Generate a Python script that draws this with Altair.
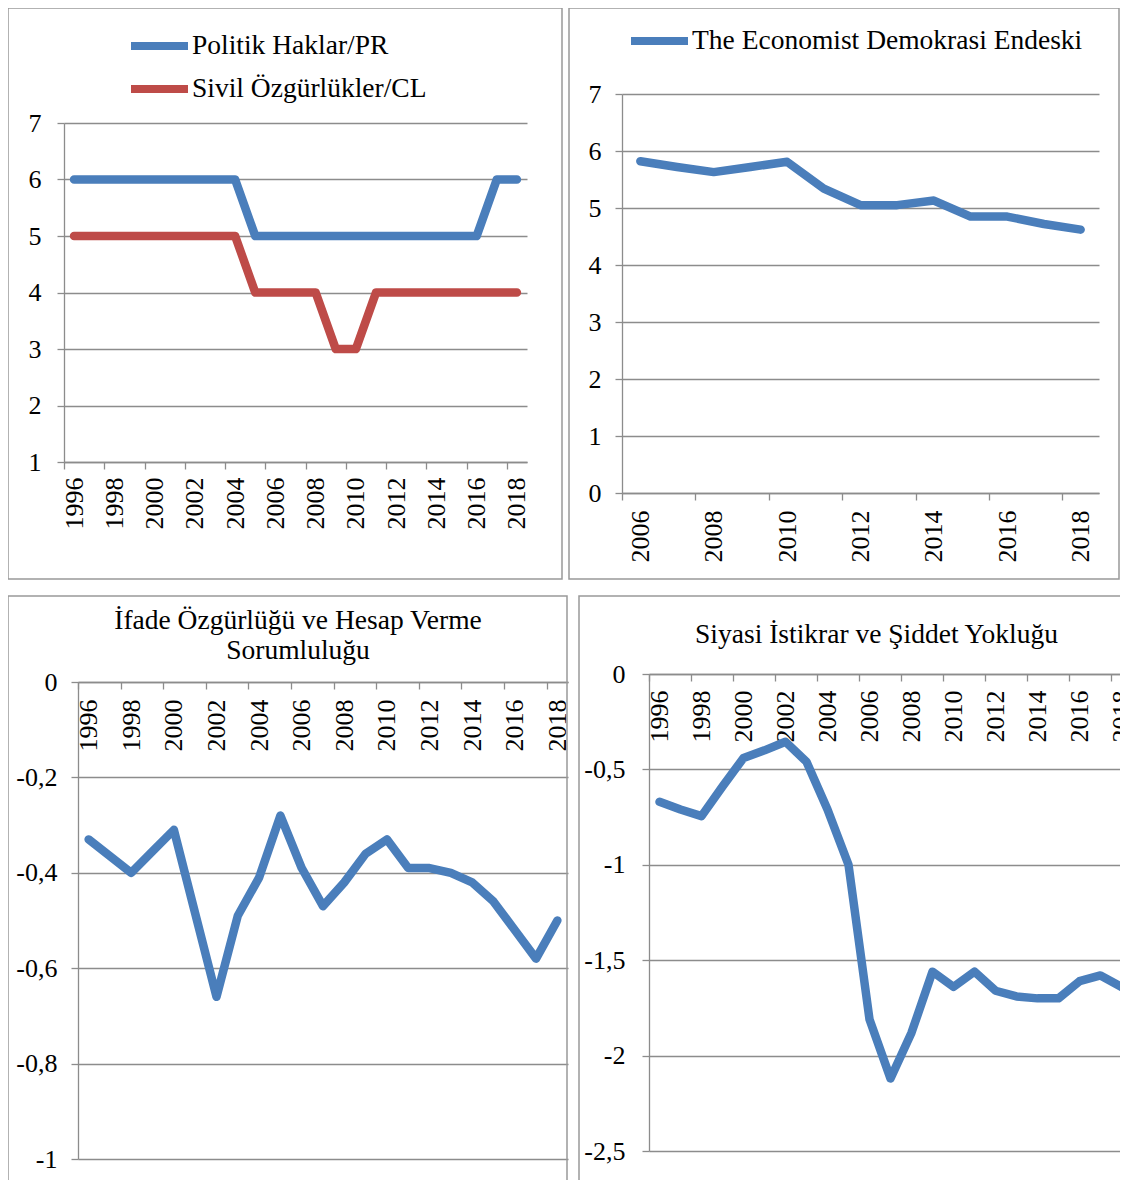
import altair as alt
import pandas as pd

FONT = "Liberation Serif"
BLUE = "#4A7EBB"
RED = "#BE4B48"
GRID = "#8C8C8C"
FRAME = "#999999"
FS = 26      # tick labels
FS_T = 27.5  # titles and legend labels

# ---------------- data ----------------
years_fh = [1996, 1997, 1998, 1999, 2000, 2001, 2002, 2003, 2004, 2005, 2006, 2007,
            2008, 2009, 2010, 2011, 2012, 2013, 2014, 2015, 2016, 2017, 2018]
year_labels_fh = [1996, 1998, 2000, 2002, 2004, 2006, 2008, 2010, 2012, 2014, 2016, 2018]
pr_name = "Politik Haklar/PR"
cl_name = "Sivil Özgürlükler/CL"
pr_values = [6, 6, 6, 6, 6, 6, 6, 6, 6, 5, 5, 5, 5, 5, 5, 5, 5, 5, 5, 5, 5, 6, 6]
cl_values = [5, 5, 5, 5, 5, 5, 5, 5, 5, 4, 4, 4, 4, 3, 3, 4, 4, 4, 4, 4, 4, 4, 4]
y_ticks_fh = [1, 2, 3, 4, 5, 6, 7]

years_eiu = [2006, 2007, 2008, 2009, 2010, 2011, 2012, 2013, 2014, 2015, 2016, 2017, 2018]
year_labels_eiu = [2006, 2008, 2010, 2012, 2014, 2016, 2018]
eiu_name = "The Economist Demokrasi Endeski"
eiu_values = [5.82, 5.72, 5.63, 5.72, 5.81, 5.34, 5.05, 5.05, 5.13, 4.85, 4.85, 4.72, 4.62]
y_ticks_eiu = [0, 1, 2, 3, 4, 5, 6, 7]

years_wgi = [1996, 1997, 1998, 1999, 2000, 2001, 2002, 2003, 2004, 2005, 2006, 2007,
             2008, 2009, 2010, 2011, 2012, 2013, 2014, 2015, 2016, 2017, 2018]
year_labels_wgi = [1996, 1998, 2000, 2002, 2004, 2006, 2008, 2010, 2012, 2014, 2016, 2018]
va_title = ["İfade Özgürlüğü ve Hesap Verme", "Sorumluluğu"]
va_values = [-0.33, -0.365, -0.40, -0.355, -0.31, -0.485, -0.66, -0.49, -0.41, -0.28, -0.39, -0.47,
             -0.42, -0.36, -0.33, -0.39, -0.39, -0.40, -0.42, -0.46, -0.52, -0.58, -0.50]
y_ticks_va = [0, -0.2, -0.4, -0.6, -0.8, -1]

ps_title = "Siyasi İstikrar ve Şiddet Yokluğu"
ps_values = [-0.67, -0.71, -0.745, -0.59, -0.44, -0.40, -0.355, -0.46, -0.71, -1.0, -1.81, -2.12,
             -1.88, -1.56, -1.64, -1.56, -1.66, -1.69, -1.70, -1.70, -1.61, -1.58, -1.64]
y_ticks_ps = [0, -0.5, -1, -1.5, -2, -2.5]

LABEL_EXPR = "replace(toString(datum.value), '.', ',')"


def x_enc(domain, labels, pad, span, offset=None, rng=None):
    # ticks on the left edge of each labelled year's band, labels in its centre
    half = span / len(domain) / 2
    ax = dict(values=labels, labelAngle=-90, tickSize=7, tickWidth=1.3,
              tickColor=GRID, domainColor=GRID, domainWidth=1.3, labelPadding=pad,
              tickOffset=-half, labelOffset=half, labelBound=False, labelFlush=False,
              labelFont=FONT, labelFontSize=FS, labelColor="black", title=None, grid=False,
              labelOverlap=False)
    if offset is not None:
        ax["offset"] = offset
    sc = dict(type="band", domain=domain, paddingInner=0, paddingOuter=0)
    if rng is not None:
        sc["range"] = rng
    return alt.X("year:O", scale=alt.Scale(**sc), bandPosition=0.5, axis=alt.Axis(**ax))


def y_enc(dom, ticks, pad, offset=None, rng=None):
    ax = dict(values=ticks, grid=True, gridColor=GRID, gridWidth=1.3,
              tickSize=7, tickColor=GRID, tickWidth=1.3, domainColor=GRID,
              domainWidth=1.3, labelPadding=pad, labelFont=FONT,
              labelFontSize=FS, labelColor="black", title=None,
              labelExpr=LABEL_EXPR, labelOverlap=False)
    if offset is not None:
        ax["offset"] = offset
    sc = dict(domain=dom, nice=False, zero=False)
    if rng is not None:
        sc["range"] = rng
    return alt.Y("value:Q", scale=alt.Scale(**sc), axis=alt.Axis(**ax))


ONE = pd.DataFrame({"f": [0]})


def frame_box(x1, x2, y1, y2):
    return alt.Chart(ONE).mark_rect(fillOpacity=0, stroke=FRAME, strokeWidth=1.5).encode(
        x=alt.value(x1), x2=alt.value(x2), y=alt.value(y1), y2=alt.value(y2))


def line_mark():
    return dict(strokeWidth=8.5, strokeCap="round", strokeJoin="round")


def legend(lx, ly):
    return alt.Legend(title=None, orient="none", legendX=lx, legendY=ly, symbolType="stroke",
                      symbolSize=3249, symbolStrokeWidth=8, labelFont=FONT, labelFontSize=FS_T,
                      labelColor="black", labelOffset=0, rowPadding=0, padding=0,
                      clipHeight=43, direction="vertical", labelLimit=600)


# ---------------- top-left ----------------
df_fh = pd.DataFrame({
    "year": years_fh + years_fh,
    "value": pr_values + cl_values,
    "seriesA": [pr_name] * len(years_fh) + [cl_name] * len(years_fh),
})
tl_lines = alt.Chart(df_fh).mark_line(**line_mark()).encode(
    x=x_enc(years_fh, year_labels_fh, 8, 463),
    y=y_enc([1, 7], y_ticks_fh, 16, rng=[368, 29]),
    color=alt.Color("seriesA:N", scale=alt.Scale(domain=[pr_name, cl_name], range=[BLUE, RED]),
                    legend=legend(63, -69.5)),
)
tl = alt.layer(frame_box(-56, 498, -86, 485), tl_lines).properties(width=463, height=368)

# ---------------- top-right ----------------
df_eiu = pd.DataFrame({"year": years_eiu, "value": eiu_values, "seriesB": [eiu_name] * len(years_eiu)})
tr_lines = alt.Chart(df_eiu).mark_line(**line_mark()).encode(
    x=x_enc(years_eiu, year_labels_eiu, 10, 477),
    y=y_enc([0, 7], y_ticks_eiu, 14),
    color=alt.Color("seriesB:N", scale=alt.Scale(domain=[eiu_name], range=[BLUE]),
                    legend=legend(5, -74.5)),
)
tr = alt.layer(frame_box(-53, 497, -86, 485), tr_lines).properties(width=477, height=399)

# ---------------- bottom-left ----------------
df_va = pd.DataFrame({"year": years_wgi, "value": va_values})
bl_lines = alt.Chart(df_va).mark_line(color=BLUE, **line_mark()).encode(
    x=x_enc(years_wgi, year_labels_wgi, 10, 490, offset=-477, rng=[14, 504]),
    y=y_enc([-1, 0], y_ticks_va, 14, offset=-14, rng=[485, 8]),
)
bl = alt.layer(frame_box(-56, 503, -78, 540), bl_lines).properties(
    width=504, height=485,
    title=alt.TitleParams(text=va_title, font=FONT, fontSize=FS_T, fontWeight="normal",
                          color="black", anchor="middle", frame="group", offset=-69,
                          dx=-18, lineHeight=30),
)

# ---------------- bottom-right ----------------
df_ps = pd.DataFrame({"year": years_wgi, "value": ps_values})
br_lines = alt.Chart(df_ps).mark_line(color=BLUE, **line_mark()).encode(
    x=x_enc(years_wgi, year_labels_wgi, 9, 483, offset=-477),
    y=y_enc([-2.5, 0], y_ticks_ps, 17),
)
br = alt.layer(frame_box(-70, 520, -78, 540), br_lines).properties(
    width=483, height=477,
    title=alt.TitleParams(text=ps_title, font=FONT, fontSize=FS_T, fontWeight="normal",
                          color="black", anchor="middle", frame="group", offset=-53,
                          dx=-14),
)

top = alt.hconcat(tl, tr, spacing=5).resolve_scale(color="independent").resolve_legend(color="independent")
bottom = alt.hconcat(bl, br, spacing=7)
chart = alt.vconcat(top, bottom, spacing=15).resolve_scale(color="independent").resolve_legend(
    color="independent").properties(
    autosize=alt.AutoSizeParams(type="none"),
    padding={"left": 56, "top": 86, "right": 1056, "bottom": 1086},
    background="white",
).configure_view(stroke=None)

chart.save("out.html", embed_options={"renderer": "svg", "actions": False})
